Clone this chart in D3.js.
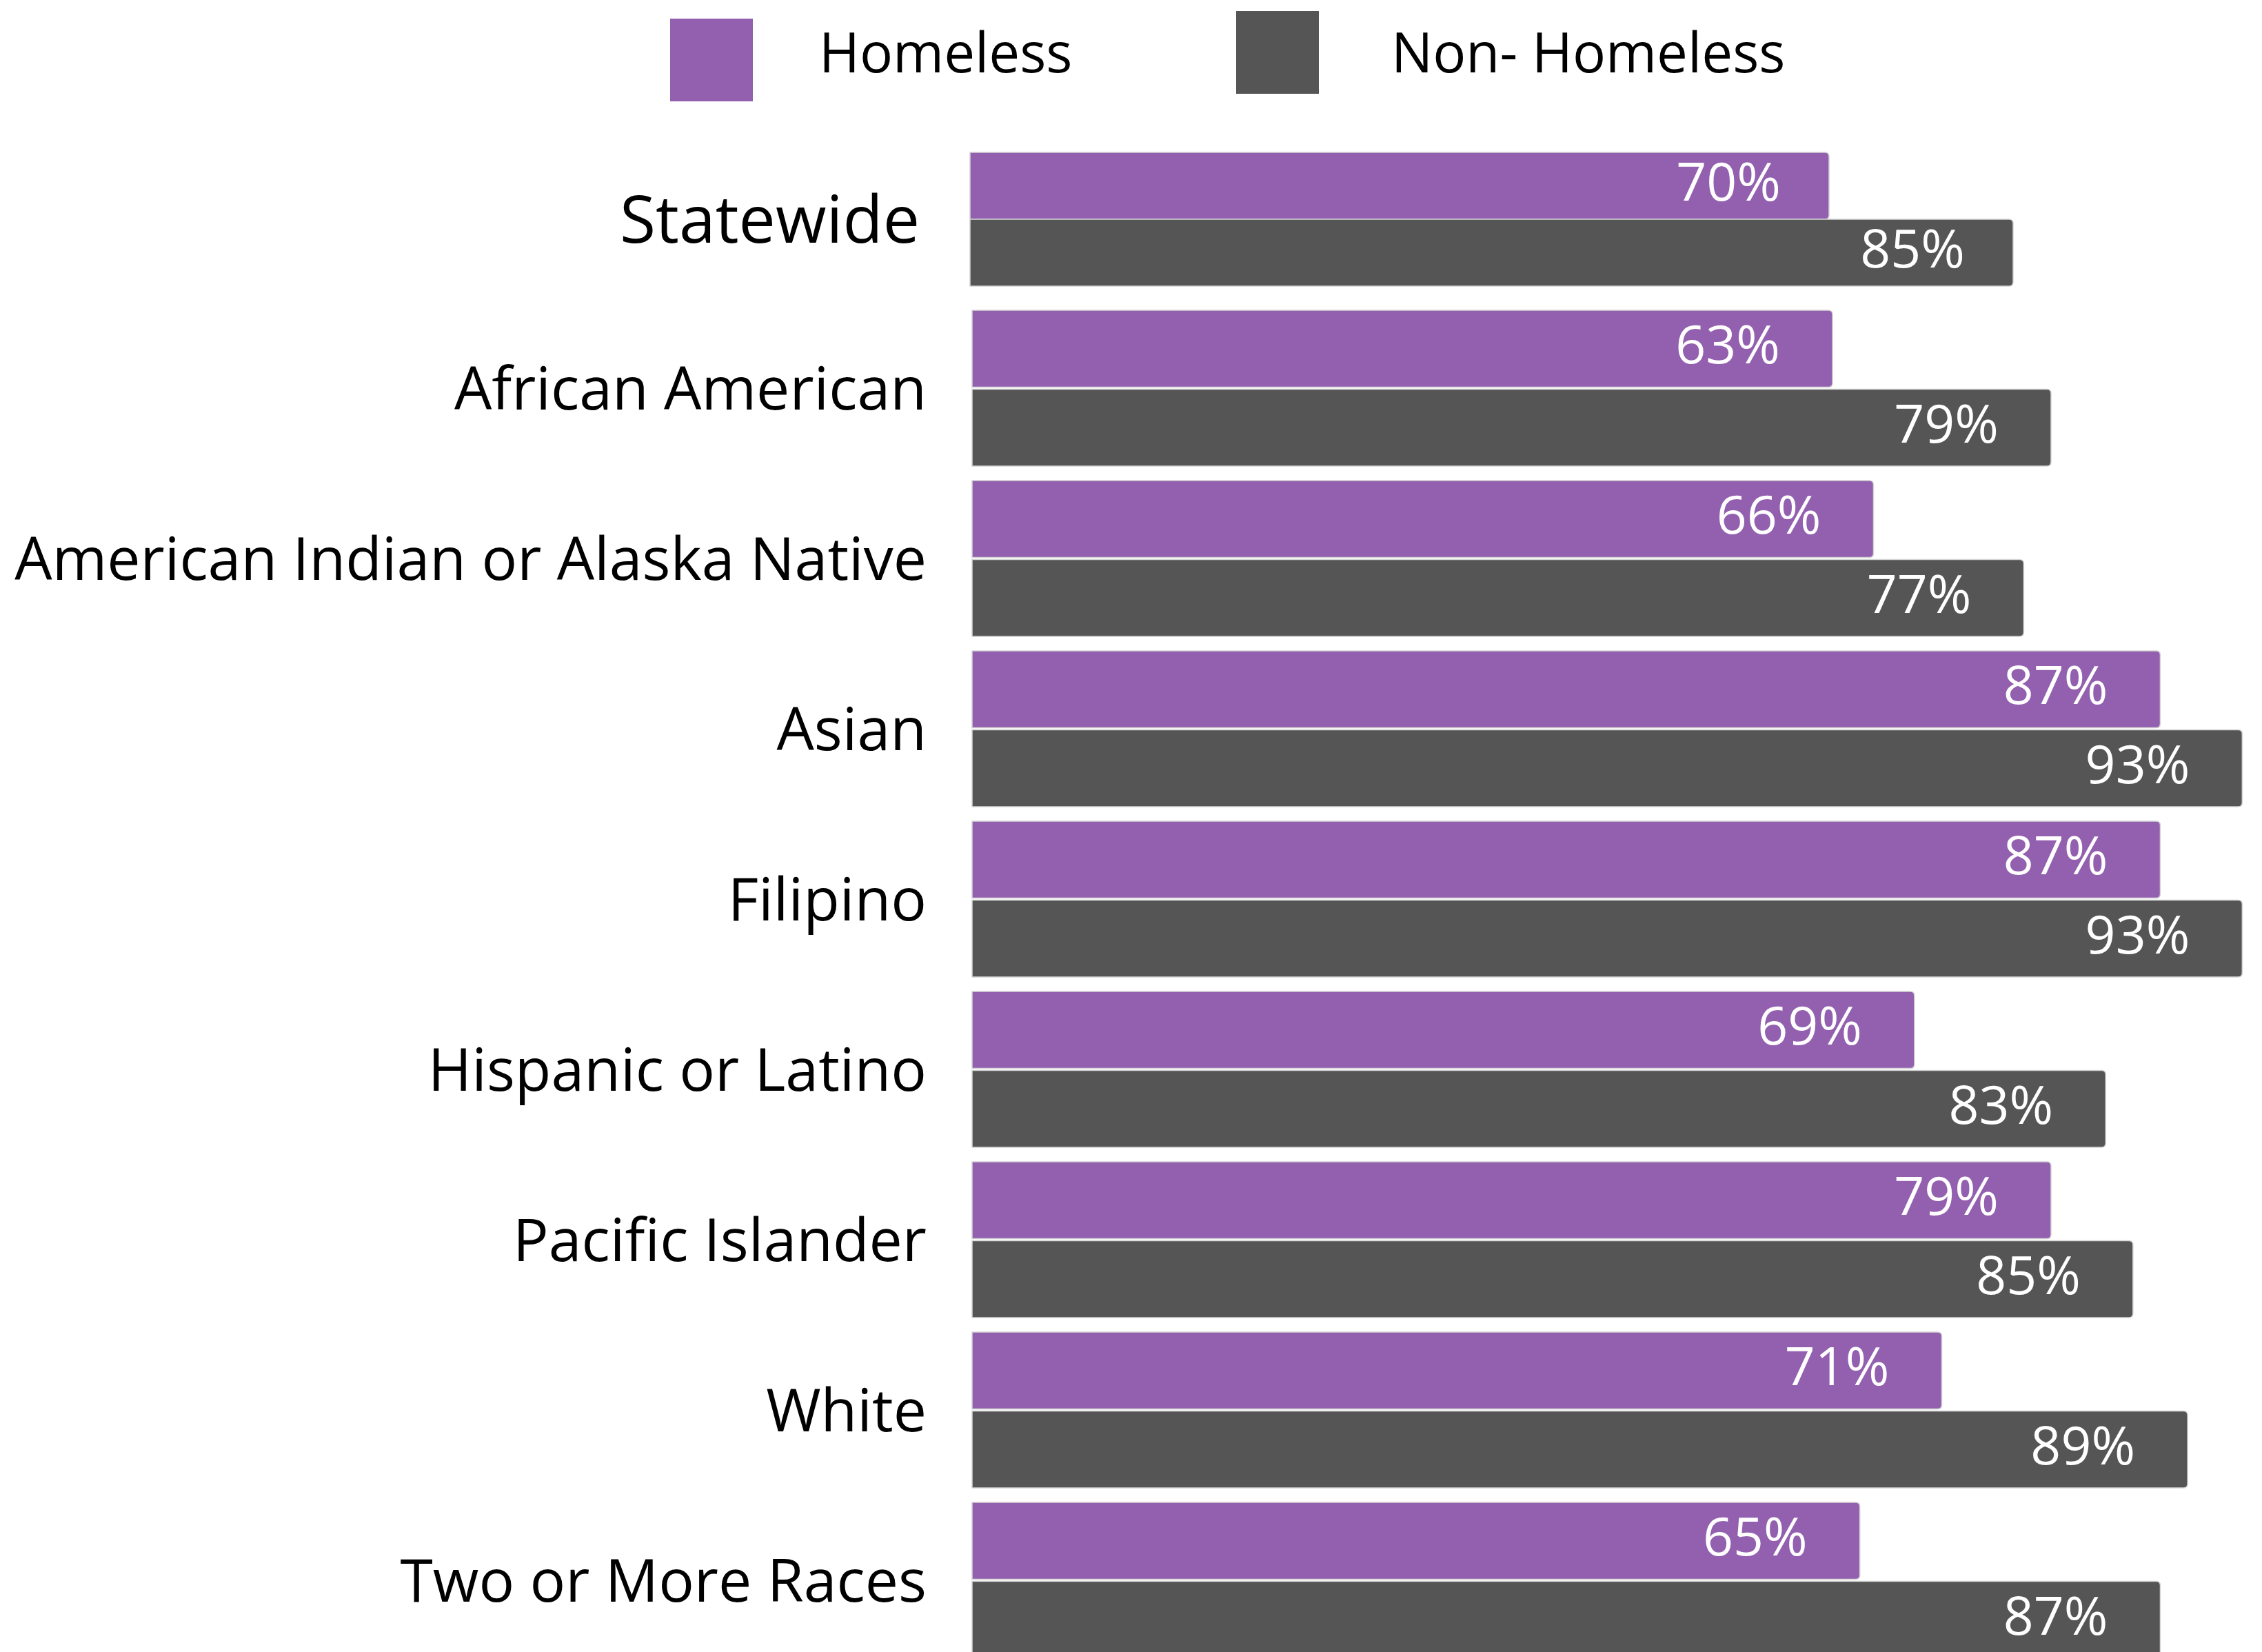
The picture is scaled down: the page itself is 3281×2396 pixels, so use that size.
<!DOCTYPE html>
<html>
<head>
<meta charset="utf-8">
<script src="https://cdn.jsdelivr.net/npm/d3@7"></script>
<style>
  html, body { margin: 0; padding: 0; background: #ffffff; }
  svg { display: block; font-family: "Open Sans", "Noto Sans", sans-serif; }
</style>
</head>
<body>
<div id="chart"></div>
<script>
// ---- data ----
const series = ["Homeless", "Non- Homeless"];
const statewideLabel = ["Statewide"];
const statewideValues = [70, 85];
const categories = [
  "African American",
  "American Indian or Alaska Native",
  "Asian",
  "Filipino",
  "Hispanic or Latino",
  "Pacific Islander",
  "White",
  "Two or More Races"
];
const homeless    = [63, 66, 87, 87, 69, 79, 71, 65];
const nonHomeless = [79, 77, 93, 93, 83, 85, 89, 87];

// ---- layout ----
const W = 3281, H = 2396;
const colors = { "Homeless": "#9360AF", "Non- Homeless": "#555555" };

const svg = d3.select("#chart").append("svg")
  .attr("width", W).attr("height", H).attr("viewBox", `0 0 ${W} ${H}`);
svg.append("rect").attr("width", W).attr("height", H).attr("fill", "#fff");

const color = d3.scaleOrdinal().domain(series).range([colors["Homeless"], colors["Non- Homeless"]]);

// right-rounded bar path
function barPath(x0, y0, w, h, r) {
  r = Math.min(r, w, h / 2);
  return `M${x0},${y0}H${x0 + w - r}Q${x0 + w},${y0} ${x0 + w},${y0 + r}` +
         `V${y0 + h - r}Q${x0 + w},${y0 + h} ${x0 + w - r},${y0 + h}H${x0}Z`;
}

const valueFont = 77;
const valueShift = 0.28;
const labelInset = 76;

// ---- legend ----
const legendItems = [
  { name: series[0], sx: 972, sy: 27, tx: 1188 },
  { name: series[1], sx: 1793, sy: 16, tx: 2018 }
];
const lg = svg.append("g");
lg.selectAll("rect").data(legendItems).join("rect")
  .attr("x", d => d.sx).attr("y", d => d.sy)
  .attr("width", 120).attr("height", 120)
  .attr("fill", d => color(d.name));
lg.selectAll("text").data(legendItems).join("text")
  .attr("x", d => d.tx).attr("y", 105)
  .attr("font-size", 80).attr("fill", "#000")
  .text(d => d.name);

// ---- Statewide panel (own scale) ----
const xS = d3.scaleLinear().domain([0, 100]).range([1407, 1407 + 1780]);
const yS = d3.scaleBand().domain(statewideLabel).range([221, 415]);
const ySs = d3.scaleBand().domain(series).range([0, yS.bandwidth()]);

const sg = svg.append("g");
const stateData = series.map((s, i) => ({ series: s, value: statewideValues[i] }));
sg.selectAll("path").data(stateData).join("path")
  .attr("d", d => barPath(xS(0), yS("Statewide") + ySs(d.series), xS(d.value) - xS(0), ySs.bandwidth(), 6))
  .attr("fill", d => color(d.series))
  .attr("stroke", "#d4d4d4").attr("stroke-width", 1.5);
sg.selectAll("text.val").data(stateData).join("text")
  .attr("class", "val")
  .attr("x", d => xS(d.value) - labelInset + 6)
  .attr("y", d => yS("Statewide") + ySs(d.series) + ySs.bandwidth() / 2 + valueFont * valueShift)
  .attr("text-anchor", "end").attr("fill", "#fff").attr("font-size", valueFont)
  .text(d => d.value + "%");
sg.append("text")
  .attr("x", 1334)
  .attr("y", yS("Statewide") + yS.bandwidth() / 2 + 95 * 0.357)
  .attr("text-anchor", "end").attr("font-size", 95).attr("fill", "#000")
  .text(statewideLabel[0]);

// ---- groups panel ----
const x = d3.scaleLinear().domain([0, 100]).range([1410, 1410 + 1981]);
const y = d3.scaleBand().domain(categories).range([450, 2405]).paddingInner(0.085).paddingOuter(0).align(0);
const y1 = d3.scaleBand().domain(series).range([0, y.bandwidth()]).paddingInner(0.027);

const rows = categories.map((c, i) => ({
  cat: c,
  bars: [
    { series: series[0], value: homeless[i] },
    { series: series[1], value: nonHomeless[i] }
  ]
}));

const gg = svg.append("g");
const rowG = gg.selectAll("g.row").data(rows).join("g")
  .attr("class", "row")
  .attr("transform", d => `translate(0,${y(d.cat)})`);

rowG.selectAll("path").data(d => d.bars).join("path")
  .attr("d", d => barPath(x(0), y1(d.series), x(d.value) - x(0), y1.bandwidth(), 6))
  .attr("fill", d => color(d.series))
  .attr("stroke", "#d4d4d4").attr("stroke-width", 1.5);

rowG.selectAll("text.val").data(d => d.bars).join("text")
  .attr("class", "val")
  .attr("x", d => x(d.value) - labelInset)
  .attr("y", d => y1(d.series) + y1.bandwidth() / 2 + valueFont * valueShift)
  .attr("text-anchor", "end").attr("fill", "#fff").attr("font-size", valueFont)
  .text(d => d.value + "%");

rowG.append("text")
  .attr("x", 1344)
  .attr("y", y.bandwidth() / 2 + 86 * 0.357)
  .attr("text-anchor", "end").attr("font-size", 86).attr("fill", "#000")
  .text(d => d.cat);
</script>
</body>
</html>
